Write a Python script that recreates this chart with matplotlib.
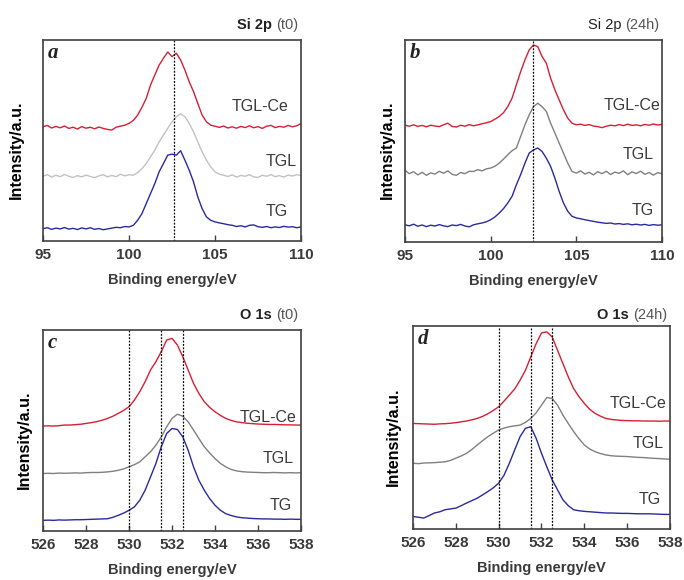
import matplotlib
matplotlib.use("Agg")
import matplotlib.pyplot as plt
import numpy as np

plt.rcParams['font.family'] = ['Liberation Sans', 'DejaVu Sans']

# ---- data (intensity in axes fraction) ----
si_energy = np.arange(95.0, 110.001, 0.25)
o_energy = np.arange(526.0, 538.001, 0.25)

si_t0_tglce = [0.568, 0.575, 0.562, 0.570, 0.563, 0.572, 0.560, 0.566, 0.557, 0.569,
               0.561, 0.566, 0.558, 0.567, 0.560, 0.555, 0.552, 0.566, 0.571, 0.576,
               0.585, 0.600, 0.626, 0.665, 0.709, 0.776, 0.826, 0.875, 0.909, 0.940,
               0.917, 0.934, 0.900, 0.850, 0.792, 0.743, 0.684, 0.626, 0.593, 0.576,
               0.571, 0.565, 0.572, 0.562, 0.568, 0.561, 0.570, 0.564, 0.573, 0.563,
               0.569, 0.560, 0.571, 0.575, 0.564, 0.570, 0.566, 0.575, 0.568, 0.573,
               0.585]
si_t0_tgl = [0.322, 0.330, 0.318, 0.327, 0.320, 0.331, 0.322, 0.316, 0.325, 0.319,
             0.328, 0.321, 0.315, 0.324, 0.330, 0.319, 0.326, 0.320, 0.332, 0.324,
             0.330, 0.327, 0.340, 0.360, 0.385, 0.419, 0.452, 0.493, 0.527, 0.560,
             0.593, 0.618, 0.633, 0.618, 0.585, 0.543, 0.493, 0.443, 0.402, 0.369,
             0.344, 0.332, 0.327, 0.321, 0.329, 0.318, 0.326, 0.322, 0.330, 0.319,
             0.316, 0.327, 0.322, 0.330, 0.320, 0.325, 0.318, 0.328, 0.323, 0.330,
             0.326]
si_t0_tg = [0.061, 0.066, 0.058, 0.064, 0.060, 0.067, 0.059, 0.063, 0.057, 0.065,
            0.060, 0.066, 0.058, 0.062, 0.056, 0.060, 0.064, 0.068, 0.066, 0.072,
            0.070, 0.078, 0.103, 0.136, 0.186, 0.236, 0.286, 0.344, 0.385, 0.427,
            0.432, 0.427, 0.449, 0.402, 0.352, 0.294, 0.219, 0.161, 0.120, 0.103,
            0.095, 0.090, 0.086, 0.081, 0.078, 0.072, 0.076, 0.070, 0.078, 0.080,
            0.071, 0.068, 0.072, 0.066, 0.070, 0.067, 0.073, 0.069, 0.071, 0.066,
            0.070]

si_24h_tglce = [0.578, 0.573, 0.580, 0.572, 0.577, 0.570, 0.578, 0.574, 0.571, 0.580,
                0.588, 0.572, 0.569, 0.578, 0.573, 0.581, 0.575, 0.580, 0.585, 0.590,
                0.596, 0.608, 0.621, 0.640, 0.670, 0.712, 0.778, 0.843, 0.901, 0.951,
                0.975, 0.967, 0.918, 0.885, 0.811, 0.753, 0.703, 0.654, 0.613, 0.588,
                0.580, 0.583, 0.577, 0.581, 0.574, 0.571, 0.566, 0.573, 0.578, 0.575,
                0.581, 0.576, 0.583, 0.577, 0.580, 0.575, 0.582, 0.578, 0.584, 0.579,
                0.582]
si_24h_tgl = [0.355, 0.338, 0.348, 0.332, 0.345, 0.330, 0.342, 0.336, 0.350, 0.340,
              0.352, 0.335, 0.330, 0.344, 0.338, 0.350, 0.349, 0.358, 0.352, 0.362,
              0.366, 0.375, 0.390, 0.410, 0.432, 0.452, 0.465, 0.522, 0.580, 0.629,
              0.670, 0.687, 0.670, 0.646, 0.588, 0.539, 0.489, 0.440, 0.390, 0.349,
              0.341, 0.352, 0.336, 0.345, 0.332, 0.348, 0.338, 0.350, 0.334, 0.346,
              0.340, 0.352, 0.333, 0.347, 0.339, 0.350, 0.335, 0.344, 0.331, 0.343,
              0.338]
si_24h_tg = [0.085, 0.080, 0.088, 0.078, 0.084, 0.076, 0.083, 0.079, 0.086, 0.080,
             0.076, 0.084, 0.081, 0.087, 0.079, 0.075, 0.085, 0.090, 0.094, 0.100,
             0.110, 0.124, 0.143, 0.165, 0.193, 0.226, 0.283, 0.333, 0.390, 0.440,
             0.456, 0.465, 0.448, 0.415, 0.374, 0.316, 0.250, 0.193, 0.152, 0.127,
             0.119, 0.115, 0.110, 0.106, 0.102, 0.098, 0.095, 0.092, 0.094, 0.089,
             0.091, 0.087, 0.090, 0.085, 0.088, 0.084, 0.087, 0.082, 0.086, 0.083,
             0.085]

o_t0_tglce = [0.522, 0.523, 0.522, 0.524, 0.527, 0.527, 0.529, 0.531, 0.535, 0.539,
              0.544, 0.551, 0.560, 0.571, 0.585, 0.600, 0.618, 0.651, 0.693, 0.743,
              0.801, 0.842, 0.892, 0.950, 0.958, 0.925, 0.867, 0.801, 0.734, 0.684,
              0.643, 0.615, 0.593, 0.575, 0.560, 0.550, 0.543, 0.539, 0.536, 0.534,
              0.532, 0.531, 0.530, 0.530, 0.529, 0.528, 0.528, 0.527, 0.527]
o_t0_tgl = [0.286, 0.287, 0.286, 0.288, 0.287, 0.288, 0.289, 0.288, 0.290, 0.291,
            0.291, 0.292, 0.294, 0.297, 0.302, 0.309, 0.319, 0.330, 0.344, 0.369,
            0.394, 0.427, 0.468, 0.518, 0.560, 0.581, 0.571, 0.543, 0.502, 0.460,
            0.419, 0.388, 0.360, 0.336, 0.319, 0.306, 0.299, 0.295, 0.293, 0.292,
            0.291, 0.290, 0.290, 0.291, 0.290, 0.289, 0.290, 0.289, 0.290]
o_t0_tg = [0.053, 0.054, 0.053, 0.055, 0.054, 0.055, 0.056, 0.056, 0.057, 0.058,
           0.059, 0.060, 0.061, 0.068, 0.078, 0.089, 0.103, 0.120, 0.153, 0.203,
           0.269, 0.336, 0.419, 0.485, 0.510, 0.505, 0.468, 0.402, 0.319, 0.252,
           0.203, 0.161, 0.128, 0.103, 0.086, 0.077, 0.070, 0.066, 0.064, 0.062,
           0.061, 0.060, 0.060, 0.059, 0.059, 0.058, 0.059, 0.058, 0.058]

o_24h_tglce = [0.520, 0.519, 0.518, 0.517, 0.516, 0.518, 0.519, 0.521, 0.524, 0.528,
               0.532, 0.538, 0.545, 0.555, 0.568, 0.584, 0.602, 0.630, 0.660, 0.690,
               0.733, 0.782, 0.848, 0.913, 0.966, 0.971, 0.946, 0.880, 0.815, 0.750,
               0.692, 0.652, 0.619, 0.590, 0.570, 0.556, 0.545, 0.540, 0.537, 0.535,
               0.534, 0.533, 0.533, 0.532, 0.532, 0.532, 0.531, 0.532, 0.532]
o_24h_tgl = [0.324, 0.322, 0.325, 0.326, 0.327, 0.329, 0.331, 0.338, 0.349, 0.360,
             0.373, 0.392, 0.414, 0.435, 0.455, 0.472, 0.488, 0.497, 0.504, 0.508,
             0.512, 0.525, 0.545, 0.572, 0.610, 0.648, 0.643, 0.610, 0.561, 0.520,
             0.480, 0.445, 0.414, 0.394, 0.381, 0.372, 0.365, 0.361, 0.359, 0.358,
             0.357, 0.355, 0.353, 0.352, 0.350, 0.348, 0.347, 0.345, 0.344]
o_24h_tg = [0.062, 0.058, 0.054, 0.066, 0.079, 0.085, 0.095, 0.099, 0.103, 0.115,
            0.128, 0.140, 0.152, 0.168, 0.185, 0.203, 0.226, 0.265, 0.324, 0.390,
            0.455, 0.496, 0.504, 0.447, 0.373, 0.306, 0.242, 0.193, 0.144, 0.115,
            0.095, 0.090, 0.087, 0.085, 0.083, 0.081, 0.079, 0.079, 0.078, 0.077,
            0.077, 0.076, 0.075, 0.075, 0.075, 0.074, 0.073, 0.072, 0.072]

sample_names = ['TGL-Ce', 'TGL', 'TG']
ref_lines_si_t0 = [102.6]
ref_lines_si_24h = [102.5]
ref_lines_o = [530.0, 531.5, 532.5]

RED = '#d42035'
BLUE = '#2a2aa0'
LIGHT_GRAY = '#c2c2c2'
DARK_GRAY = '#808080'
TEXT_GRAY = '#3a3a3a'

# per-panel layout
panels = [
    dict(rect=[0.0629, 0.5845, 0.3772, 0.3466], x=si_energy,
         y=[si_t0_tglce, si_t0_tgl, si_t0_tg], colors=[RED, LIGHT_GRAY, BLUE],
         xlim=(95, 110), xticks=[95, 100, 105, 110], refs=ref_lines_si_t0,
         letter='a', elem='Si 2p ', time='(t0)', elem_bold=True, title_y=1.075,
         labels=[(0.95, 0.667), (0.985, 0.393), (0.95, 0.149)], ylab_x=-0.074),
    dict(rect=[0.5921, 0.5828, 0.3757, 0.3483], x=si_energy,
         y=[si_24h_tglce, si_24h_tgl, si_24h_tg], colors=[RED, DARK_GRAY, BLUE],
         xlim=(95, 110), xticks=[95, 100, 105, 110], refs=ref_lines_si_24h,
         letter='b', elem='Si 2p ', time='(24h)', elem_bold=False, title_y=1.075,
         labels=[(0.996, 0.675), (0.968, 0.431), (0.968, 0.155)], ylab_x=-0.039),
    dict(rect=[0.0629, 0.0845, 0.3772, 0.3466], x=o_energy,
         y=[o_t0_tglce, o_t0_tgl, o_t0_tg], colors=[RED, DARK_GRAY, BLUE],
         xlim=(526, 538), xticks=list(range(526, 539, 2)), refs=ref_lines_o,
         letter='c', elem='O 1s ', time='(t0)', elem_bold=True, title_y=1.075,
         labels=[(0.983, 0.566), (0.97, 0.362), (0.964, 0.129)], ylab_x=-0.043),
    dict(rect=[0.6038, 0.0879, 0.3757, 0.3500], x=o_energy,
         y=[o_24h_tglce, o_24h_tgl, o_24h_tg], colors=[RED, DARK_GRAY, BLUE],
         xlim=(526, 538), xticks=list(range(526, 539, 2)), refs=ref_lines_o,
         letter='d', elem='O 1s ', time='(24h)', elem_bold=True, title_y=1.053,
         labels=[(0.988, 0.619), (0.975, 0.419), (0.963, 0.143)], ylab_x=-0.047),
]

fig = plt.figure(figsize=(6.84, 5.8), dpi=100)

for p in panels:
    ax = fig.add_axes(p['rect'])
    for yy, c in zip(p['y'], p['colors']):
        ax.plot(p['x'], yy, color=c, lw=1.0)
    for r in p['refs']:
        ax.axvline(r, color='black', lw=0.9, ls=(0, (1.5, 1.2)))
    ax.set_xlim(*p['xlim'])
    ax.set_ylim(0, 1)
    ax.set_xticks(p['xticks'])
    ax.set_yticks([])
    ax.tick_params(axis='x', direction='in', length=4, width=1, colors='#404040',
                   labelsize=11, pad=5)
    for lab in ax.get_xticklabels():
        lab.set_fontweight('bold')
        lab.set_color(TEXT_GRAY)
    for s in ax.spines.values():
        s.set_color('#404040')
        s.set_linewidth(1.2)

    ax.set_xlabel('Binding energy/eV', fontsize=10.5, fontweight='bold', color=TEXT_GRAY)
    ax.xaxis.set_label_coords(0.5, -0.16)
    ax.set_ylabel('Intensity/a.u.', fontsize=11.5, fontweight='bold', color='black')
    ax.yaxis.set_label_coords(p['ylab_x'], 0.455)

    for name, (lx, ly) in zip(sample_names, p['labels']):
        ax.text(lx, ly, name, transform=ax.transAxes, ha='right', va='center',
                fontsize=11.5, color=TEXT_GRAY)

    ax.text(0.02, 0.91, p['letter'], transform=ax.transAxes, ha='left', va='baseline',
            fontsize=15, fontweight='bold', fontstyle='italic',
            family=['Liberation Serif', 'DejaVu Serif'], color='#222222')

    t_time = ax.text(0.99, p['title_y'], p['time'], transform=ax.transAxes, ha='right',
                     va='center', fontsize=10.5, color='#555555')
    ax.annotate(p['elem'], xy=(0, 0.5), xycoords=t_time, ha='right', va='center',
                fontsize=10.5, color='#222222',
                fontweight='bold' if p['elem_bold'] else 'normal')

fig.savefig('out.png', dpi=100)
